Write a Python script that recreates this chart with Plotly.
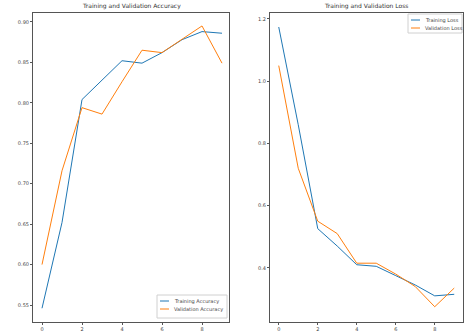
import plotly.graph_objects as go

epochs = list(range(10))
train_acc = [0.546, 0.652, 0.804, 0.828, 0.852, 0.849, 0.862, 0.878, 0.888, 0.886]
val_acc = [0.600, 0.716, 0.794, 0.786, 0.826, 0.865, 0.862, 0.878, 0.895, 0.849]
train_loss = [1.174, 0.860, 0.526, 0.470, 0.410, 0.405, 0.375, 0.345, 0.310, 0.315]
val_loss = [1.050, 0.720, 0.550, 0.510, 0.415, 0.415, 0.380, 0.340, 0.275, 0.335]

acc_ticks = [0.55, 0.60, 0.65, 0.70, 0.75, 0.80, 0.85, 0.90]
loss_ticks = [0.4, 0.6, 0.8, 1.0, 1.2]
x_ticks = [0, 2, 4, 6, 8]

BLUE = "#1f77b4"
ORANGE = "#ff7f0e"
W, H = 465, 331


def px(x):
    return x / W


def py(y):
    return 1 - y / H


fig = go.Figure()
fig.add_trace(go.Scatter(x=epochs, y=train_acc, mode="lines", name="Training Accuracy",
                         line=dict(color=BLUE, width=1), xaxis="x", yaxis="y"))
fig.add_trace(go.Scatter(x=epochs, y=val_acc, mode="lines", name="Validation Accuracy",
                         line=dict(color=ORANGE, width=1), xaxis="x", yaxis="y"))
fig.add_trace(go.Scatter(x=epochs, y=train_loss, mode="lines", name="Training Loss",
                         line=dict(color=BLUE, width=1), xaxis="x2", yaxis="y2"))
fig.add_trace(go.Scatter(x=epochs, y=val_loss, mode="lines", name="Validation Loss",
                         line=dict(color=ORANGE, width=1), xaxis="x2", yaxis="y2"))

axis_common = dict(showgrid=False, zeroline=False, showline=True, linecolor="#555", linewidth=1,
                   mirror=True, ticks="outside", ticklen=2, tickcolor="#555", tickwidth=1,
                   tickfont=dict(size=5, color="#444", family="DejaVu Sans"))

shapes = []
annotations = [
    dict(text="Training and Validation Accuracy", x=0.282, y=0.964, xref="paper", yref="paper",
         xanchor="center", yanchor="bottom", showarrow=False, font=dict(size=6, color="#333")),
    dict(text="Training and Validation Loss", x=0.788, y=0.964, xref="paper", yref="paper",
         xanchor="center", yanchor="bottom", showarrow=False, font=dict(size=6, color="#333")),
]


def add_legend(x0, y0, x1, y1, entries):
    shapes.append(dict(type="rect", xref="paper", yref="paper", x0=px(x0), x1=px(x1),
                       y0=py(y1), y1=py(y0), line=dict(color="#d0d0d0", width=1),
                       fillcolor="rgba(255,255,255,0.8)", layer="above"))
    for i, (label, color) in enumerate(entries):
        yy = y0 + 6 + i * 8
        shapes.append(dict(type="line", xref="paper", yref="paper", x0=px(x0 + 3), x1=px(x0 + 12),
                           y0=py(yy), y1=py(yy), line=dict(color=color, width=1), layer="above"))
        annotations.append(dict(text=label, x=px(x0 + 15), y=py(yy), xref="paper", yref="paper",
                                xanchor="left", yanchor="middle", showarrow=False,
                                font=dict(size=5, color="#444")))


add_legend(157, 295, 227, 318, [("Training Accuracy", BLUE), ("Validation Accuracy", ORANGE)])
add_legend(408, 14, 462, 33, [("Training Loss", BLUE), ("Validation Loss", ORANGE)])

fig.update_layout(
    width=W, height=H,
    margin=dict(l=0, r=0, t=0, b=0),
    paper_bgcolor="white", plot_bgcolor="white",
    showlegend=False,
    font=dict(family="DejaVu Sans", size=5, color="#444"),
    xaxis=dict(domain=[0.071, 0.4925], range=[-0.45, 9.35], tickvals=x_ticks, anchor="y", **axis_common),
    yaxis=dict(domain=[0.0272, 0.9607], range=[0.529, 0.911], tickvals=acc_ticks,
               tickformat=".2f", anchor="x", **axis_common),
    xaxis2=dict(domain=[0.5806, 0.9957], range=[-0.45, 9.45], tickvals=x_ticks, anchor="y2", **axis_common),
    yaxis2=dict(domain=[0.0272, 0.9607], range=[0.226, 1.219], tickvals=loss_ticks,
                tickformat=".1f", anchor="x2", **axis_common),
    shapes=shapes,
    annotations=annotations,
)

fig.write_html("out.html", config={"displayModeBar": False},
               post_script="document.body.style.margin='0';document.body.style.overflow='hidden';")
